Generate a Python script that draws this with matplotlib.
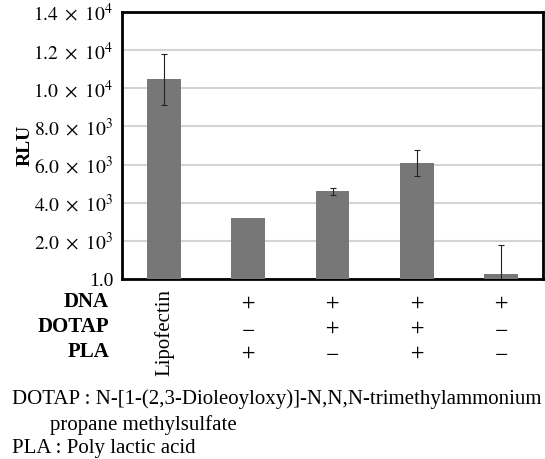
import matplotlib
matplotlib.use("Agg")
import matplotlib.pyplot as plt

plt.rcParams['font.family'] = ['Liberation Serif', 'DejaVu Serif']
plt.rcParams['mathtext.fontset'] = 'stix'

# data
values = [10470, 3190, 4590, 6090, 250]
errors = [1350, float('nan'), 170, 680, 1520]
ytick_vals = [0, 2000, 4000, 6000, 8000, 10000, 12000, 14000]
ytick_labels = ['1.0', r'$2.0\ \times\ 10^{3}$', r'$4.0\ \times\ 10^{3}$', r'$6.0\ \times\ 10^{3}$',
                r'$8.0\ \times\ 10^{3}$', r'$1.0\ \times\ 10^{4}$', r'$1.2\ \times\ 10^{4}$',
                r'$1.4\ \times\ 10^{4}$']
row_names = ['DNA', 'DOTAP', 'PLA']
row_signs = [
    ['+', '+', '+', '+'],
    ['-', '+', '+', '-'],
    ['+', '-', '+', '-'],
]

fig = plt.figure(figsize=(5.45, 4.59), dpi=100)
ax = fig.add_axes([122/545, 1 - 279/459, 421/545, 267/459])

x = range(len(values))
ax.bar(x, values, width=0.4, color='#777777', zorder=3)
ax.errorbar(x, values, yerr=errors, fmt='none', ecolor='#222222',
            elinewidth=0.8, capsize=2, capthick=0.8, zorder=4)

ax.set_xlim(-0.5, 4.5)
ax.set_ylim(0, 14000)
ax.set_yticks(ytick_vals)
ax.set_yticklabels(ytick_labels, fontsize=14)
ax.set_xticks([])
ax.tick_params(axis='y', length=0, pad=6)
ax.yaxis.grid(True, color='#d4d4d4', linewidth=1.5, zorder=0)
for s in ax.spines.values():
    s.set_linewidth(2)
    s.set_color('black')
ax.set_ylabel('RLU', fontsize=14, fontweight='bold')
ax.yaxis.set_label_coords(-0.211, 0.5)

# condition table under the bars
tr = ax.get_xaxis_transform()
row_y = [-0.085, -0.179, -0.272]
for name, signs, yy in zip(row_names, row_signs, row_y):
    fig.text(109/545, 1 - (279 - yy*267)/459, name, ha='right', va='center',
             fontsize=15, fontweight='bold')
    for i, s in enumerate(signs):
        ax.text(i + 1, yy - 0.022, '$%s$' % s, transform=tr, ha='center', va='baseline',
                fontsize=14, clip_on=False)
ax.text(0, -0.202, 'Lipofectin', transform=tr, rotation=90, ha='center', va='center',
        fontsize=15, clip_on=False)

fig.text(12/545, 1 - 399/459, 'DOTAP : N-[1-(2,3-Dioleoyloxy)]-N,N,N-trimethylammonium',
         ha='left', va='center', fontsize=15)
fig.text(50/545, 1 - 425/459, 'propane methylsulfate', ha='left', va='center', fontsize=15)
fig.text(12/545, 1 - 449/459, 'PLA : Poly lactic acid', ha='left', va='center', fontsize=15)

fig.savefig('out.png', dpi=100)
